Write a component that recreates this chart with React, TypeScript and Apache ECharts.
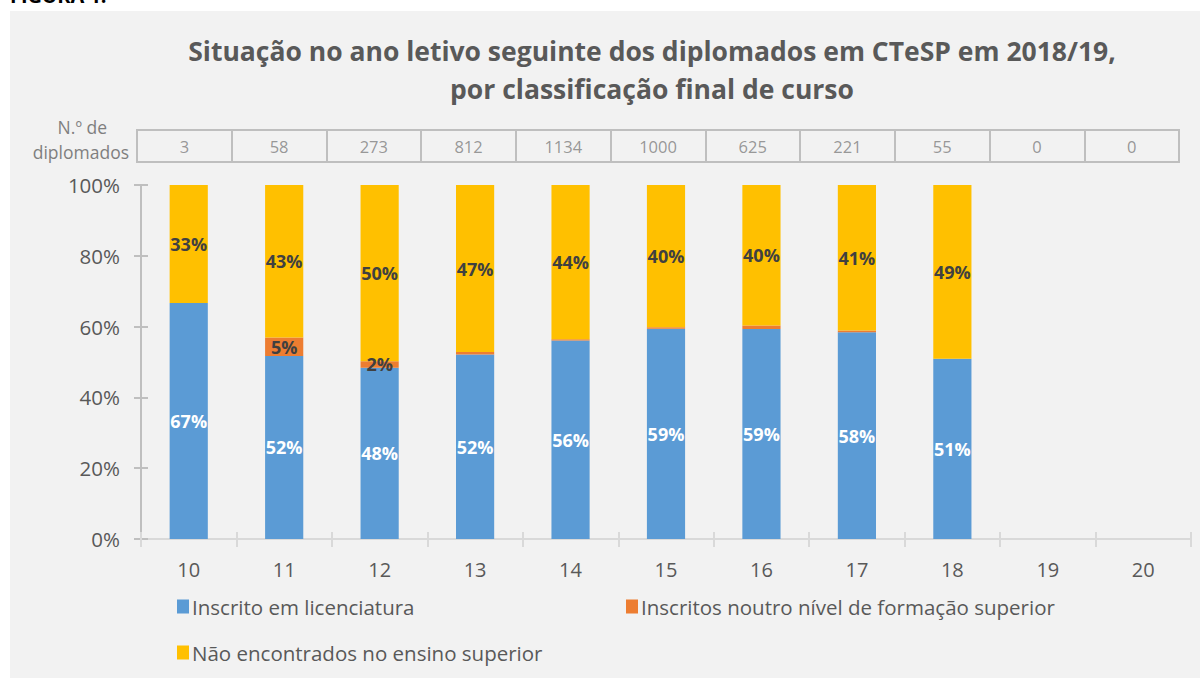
import React, { useEffect, useRef } from "react";
import * as echarts from "echarts";

const categories = ["10", "11", "12", "13", "14", "15", "16", "17", "18", "19", "20"];
const graduates = [3, 58, 273, 812, 1134, 1000, 625, 221, 55, 0, 0];
const licenciatura = [66.7, 51.7, 48.4, 52.1, 56.1, 59.4, 59.3, 58.4, 50.9, null, null];
const outroNivel = [0, 5.2, 1.8, 0.7, 0.3, 0.4, 1.0, 0.5, 0, null, null];
const naoEncontrados = [33.3, 43.1, 49.8, 47.2, 43.6, 40.2, 39.7, 41.1, 49.1, null, null];
const yTicks = [0, 20, 40, 60, 80, 100];

const seriesNames = [
  "Inscrito em licenciatura",
  "Inscritos noutro nível de formação superior",
  "Não encontrados no ensino superior",
];

const FONT = "Open Sans";

export default function App() {
  const ref = useRef<HTMLDivElement>(null);
  useEffect(() => {
    if (!ref.current) return;
    const chart = echarts.init(ref.current, undefined, { renderer: "svg" });
    const pctLabel = (min: number, color: string) => ({
      show: true,
      position: "inside",
      color,
      fontWeight: "bold",
      fontSize: 18,
      fontFamily: FONT,
      formatter: (p: any) =>
        p.value == null || p.value < min ? "" : Math.round(p.value) + "%",
    });
    chart.setOption({
      animation: false,
      backgroundColor: "#ffffff",
      graphic: [
        {
          type: "rect",
          shape: { x: 10, y: 11, width: 1190, height: 667 },
          style: { fill: "#f2f2f2" },
          z: -10,
        },
        {
          type: "text",
          x: 10,
          y: -15,
          style: {
            text: "FIGURA 1.",
            fontSize: 20,
            fontWeight: "bold",
            fontFamily: FONT,
            fill: "#000000",
          },
        },
        {
          type: "text",
          x: 107,
          y: 127,
          style: {
            text: "N.º de",
            align: "right",
            verticalAlign: "middle",
            fontSize: 17.5,
            fontFamily: FONT,
            fill: "#7f7f7f",
          },
        },
        {
          type: "text",
          x: 129,
          y: 152,
          style: {
            text: "diplomados",
            align: "right",
            verticalAlign: "middle",
            fontSize: 17.5,
            fontFamily: FONT,
            fill: "#7f7f7f",
          },
        },
      ],
      title: {
        text: "Situação no ano letivo seguinte dos diplomados em CTeSP em 2018/19,\npor classificação final de curso",
        left: 647,
        top: 27,
        textAlign: "center",
        textStyle: {
          fontSize: 26.5,
          fontWeight: "bold",
          color: "#595959",
          fontFamily: FONT,
          lineHeight: 38,
        },
      },
      legend: [
        { data: [seriesNames[0]], left: 172, top: 591 },
        { data: [seriesNames[1]], left: 621, top: 591 },
        { data: [seriesNames[2]], left: 172, top: 637 },
      ].map((l) => ({
        ...l,
        icon: "rect",
        itemWidth: 12,
        itemHeight: 14,
        itemGap: 5,
        textStyle: { fontSize: 20.5, color: "#595959", fontFamily: FONT, padding: [0, 0, 0, -2] },
      })),
      grid: [
        { left: 141, right: 9, top: 185, bottom: 139 },
        {
          left: 137,
          right: 21,
          top: 130,
          height: 32,
          show: true,
          borderColor: "#bfbfbf",
          borderWidth: 2,
          backgroundColor: "transparent",
        },
      ],
      xAxis: [
        {
          type: "category",
          data: categories,
          gridIndex: 0,
          axisLine: { lineStyle: { color: "#d9d9d9", width: 2 } },
          axisTick: { show: true, length: 8, interval: 0, lineStyle: { color: "#d9d9d9", width: 2 } },
          axisLabel: { color: "#595959", fontSize: 20, fontFamily: FONT, margin: 20 },
        },
        {
          type: "category",
          data: categories,
          gridIndex: 0,
          position: "bottom",
          axisLine: { show: false },
          axisTick: { show: true, inside: true, length: 7, interval: 0, lineStyle: { color: "#d9d9d9", width: 2 } },
          axisLabel: { show: false },
        },
        {
          type: "category",
          data: categories,
          gridIndex: 1,
          axisLine: { show: false },
          axisTick: { show: false },
          axisLabel: { show: false },
          splitLine: { show: true, interval: 0, lineStyle: { color: "#bfbfbf", width: 2 } },
        },
      ],
      yAxis: [
        {
          type: "value",
          gridIndex: 0,
          min: 0,
          max: 100,
          interval: 20,
          axisLine: { show: true, lineStyle: { color: "#bfbfbf", width: 2 } },
          axisTick: { show: true, length: 7, lineStyle: { color: "#bfbfbf", width: 2 } },
          axisLabel: {
            color: "#595959",
            fontSize: 20.5,
            fontFamily: FONT,
            margin: 21,
            formatter: (v: number) => (yTicks.includes(v) ? v + "%" : ""),
          },
          splitLine: { show: false },
        },
        {
          type: "value",
          gridIndex: 0,
          min: 0,
          max: 100,
          interval: 20,
          position: "left",
          axisLine: { show: false },
          axisTick: { show: true, inside: true, length: 7, lineStyle: { color: "#bfbfbf", width: 2 } },
          axisLabel: { show: false },
          splitLine: { show: false },
        },
        {
          type: "value",
          gridIndex: 1,
          min: 0,
          max: 1,
          show: false,
        },
      ],
      series: [
        {
          name: seriesNames[0],
          type: "bar",
          stack: "total",
          barWidth: "40%",
          data: licenciatura,
          itemStyle: { color: "#5b9bd5" },
          label: pctLabel(0, "#ffffff"),
        },
        {
          name: seriesNames[1],
          type: "bar",
          stack: "total",
          barWidth: "40%",
          data: outroNivel,
          itemStyle: { color: "#ed7d31" },
          label: pctLabel(1.5, "#404040"),
        },
        {
          name: seriesNames[2],
          type: "bar",
          stack: "total",
          barWidth: "40%",
          data: naoEncontrados,
          itemStyle: { color: "#ffc000" },
          label: pctLabel(0, "#404040"),
        },
        {
          type: "scatter",
          xAxisIndex: 2,
          yAxisIndex: 2,
          symbolSize: 0,
          silent: true,
          data: graduates.map((g, i) => [i, 0.5]),
          label: {
            show: true,
            position: "inside",
            color: "#7f7f7f",
            fontSize: 16.5,
            fontFamily: FONT,
            formatter: (p: any) => String(graduates[p.dataIndex]),
          },
        },
      ],
    });
    return () => chart.dispose();
  }, []);
  return (
    <div
      ref={ref}
      style={{ position: "absolute", left: 0, top: 0, width: 1200, height: 678 }}
    />
  );
}
